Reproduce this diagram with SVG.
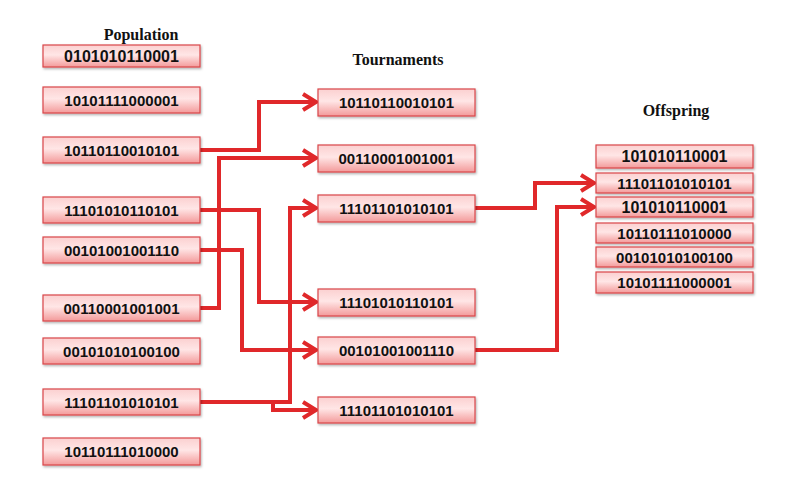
<svg xmlns="http://www.w3.org/2000/svg" width="791" height="499" viewBox="0 0 791 499">
<defs>
<linearGradient id="g" x1="0" y1="0" x2="0" y2="1">
<stop offset="0" stop-color="#fbd0d0"/>
<stop offset="0.45" stop-color="#ffe6e6"/>
<stop offset="1" stop-color="#f39a9a"/>
</linearGradient>
<filter id="sh" x="-5%" y="-20%" width="110%" height="150%">
<feDropShadow dx="1" dy="1.5" stdDeviation="1" flood-color="#000" flood-opacity="0.3"/>
</filter>
<marker id="ar" markerUnits="userSpaceOnUse" markerWidth="20" markerHeight="22" refX="17" refY="11" orient="auto" viewBox="0 0 20 22">
<polyline points="4,3 17,11 4,19" fill="none" stroke="#e0282a" stroke-width="4" stroke-linejoin="miter"/>
</marker>
</defs>
<style>
.box{fill:url(#g);stroke:#d9474a;stroke-width:1.2;filter:url(#sh)}
.t{font-family:"Liberation Sans",Arial,sans-serif;font-weight:bold;font-size:15px;fill:#111;text-anchor:middle}
.big{font-size:16px}
.h{font-family:"Liberation Serif","Times New Roman",serif;font-weight:bold;font-size:16px;fill:#111;text-anchor:middle}
.c{fill:none;stroke:#e0282a;stroke-width:4;stroke-linejoin:miter}
</style>
<rect width="791" height="499" fill="#fff"/>
<text class="h" x="141" y="40">Population</text>
<text class="h" x="398" y="65">Tournaments</text>
<text class="h" x="676" y="116">Offspring</text>

<g id="connectors">
<polyline class="c" points="200,150 259,150 259,102 316,102" marker-end="url(#ar)"/>
<polyline class="c" points="200,308 219,308 219,158 316,158" marker-end="url(#ar)"/>
<polyline class="c" points="200,210 259,210 259,302 316,302" marker-end="url(#ar)"/>
<polyline class="c" points="200,250 242,250 242,350 316,350" marker-end="url(#ar)"/>
<polyline class="c" points="200,402 290,402 290,208 316,208" marker-end="url(#ar)"/>
<polyline class="c" points="273,402 273,410 316,410" marker-end="url(#ar)"/>
<polyline class="c" points="475,208 535,208 535,183 594,183" marker-end="url(#ar)"/>
<polyline class="c" points="475,350 557,350 557,207 594,207" marker-end="url(#ar)"/>
</g>

<g id="p1"><rect class="box" x="43" y="45" width="157" height="22"/><text class="t big" x="121.5" y="62">0101010110001</text></g>
<g id="p2"><rect class="box" x="43" y="87" width="157" height="26"/><text class="t" x="121.5" y="105.5">10101111000001</text></g>
<g id="p3"><rect class="box" x="43" y="137" width="157" height="26"/><text class="t" x="121.5" y="155.5">10110110010101</text></g>
<g id="p4"><rect class="box" x="43" y="197" width="157" height="26"/><text class="t" x="121.5" y="215.5">11101010110101</text></g>
<g id="p5"><rect class="box" x="43" y="237" width="157" height="26"/><text class="t" x="121.5" y="255.5">00101001001110</text></g>
<g id="p6"><rect class="box" x="43" y="295" width="157" height="26"/><text class="t" x="121.5" y="313.5">00110001001001</text></g>
<g id="p7"><rect class="box" x="43" y="338" width="157" height="26"/><text class="t" x="121.5" y="356.5">00101010100100</text></g>
<g id="p8"><rect class="box" x="43" y="389" width="157" height="26"/><text class="t" x="121.5" y="407.5">11101101010101</text></g>
<g id="p9"><rect class="box" x="43" y="438" width="157" height="27"/><text class="t" x="121.5" y="457">10110111010000</text></g>

<g id="t1"><rect class="box" x="318" y="89" width="157" height="27"/><text class="t" x="396.5" y="108">10110110010101</text></g>
<g id="t2"><rect class="box" x="318" y="145" width="157" height="27"/><text class="t" x="396.5" y="164">00110001001001</text></g>
<g id="t3"><rect class="box" x="318" y="195" width="157" height="27"/><text class="t" x="396.5" y="214">11101101010101</text></g>
<g id="t4"><rect class="box" x="318" y="289" width="157" height="27"/><text class="t" x="396.5" y="308">11101010110101</text></g>
<g id="t5"><rect class="box" x="318" y="337" width="157" height="27"/><text class="t" x="396.5" y="356">00101001001110</text></g>
<g id="t6"><rect class="box" x="318" y="397" width="157" height="26"/><text class="t" x="396.5" y="415.5">11101101010101</text></g>

<g id="o1"><rect class="box" x="596" y="145" width="157" height="23"/><text class="t big" x="674.5" y="162">101010110001</text></g>
<g id="o2"><rect class="box" x="596" y="173" width="157" height="20"/><text class="t" x="674.5" y="188.5">11101101010101</text></g>
<g id="o3"><rect class="box" x="596" y="197" width="157" height="20"/><text class="t big" x="674.5" y="213">101010110001</text></g>
<g id="o4"><rect class="box" x="596" y="223" width="157" height="20"/><text class="t" x="674.5" y="238.5">10110111010000</text></g>
<g id="o5"><rect class="box" x="596" y="247" width="157" height="20"/><text class="t" x="674.5" y="262.5">00101010100100</text></g>
<g id="o6"><rect class="box" x="596" y="272" width="157" height="21"/><text class="t" x="674.5" y="288">10101111000001</text></g>
</svg>
